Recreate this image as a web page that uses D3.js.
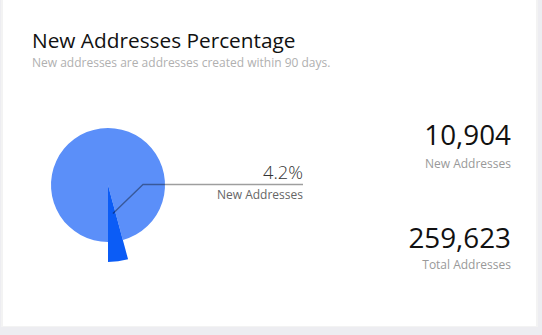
<!DOCTYPE html>
<html><head><meta charset="utf-8">
<script src="https://cdn.jsdelivr.net/npm/d3@7"></script>
<style>
html,body{margin:0;padding:0;background:#f4f4f6;}
svg{display:block;font-family:"Open Sans",sans-serif;}
</style></head>
<body>
<svg id="c" width="542" height="335"></svg>
<script>
const title = "New Addresses Percentage";
const subtitle = "New addresses are addresses created within 90 days.";
const categories = ["New Addresses", "Other Addresses"];
const newAddresses = 10904;
const totalAddresses = 259623;
const statLabels = ["New Addresses", "Total Addresses"];
const colors = ["#0b5cf6", "#5b8ff9"];

const values = [newAddresses, totalAddresses - newAddresses];
const svg = d3.select("#c");

// card
svg.append("rect").attr("x",0).attr("y",0).attr("width",542).attr("height",335).attr("fill","#ededf1");
svg.append("rect").attr("x",1).attr("y",0).attr("width",537).attr("height",327).attr("fill","#f3f3f3");
svg.append("rect").attr("x",3).attr("y",0).attr("width",533).attr("height",326).attr("fill","#ffffff");

svg.append("text").attr("x",32).attr("y",48).attr("font-size",20.8).attr("font-weight",500).attr("fill","#111")
  .text(title);
svg.append("text").attr("x",32).attr("y",67).attr("font-size",12).attr("fill","#b0b0b0")
  .text(subtitle);

const cx = 108, cy = 185, r = 57, rBig = 77;
const frac = newAddresses / totalAddresses;
const start = Math.PI - 2*Math.PI*frac;
const pie = d3.pie().sort(null).startAngle(start).endAngle(start + 2*Math.PI);
const arcs = pie(values);
const g = svg.append("g").attr("transform",`translate(${cx},${cy})`);
const arcMain = d3.arc().innerRadius(0).outerRadius(r);
const arcBig = d3.arc().innerRadius(0).outerRadius(rBig);
g.append("path").attr("d", arcMain(arcs[1])).attr("fill", colors[1]);
g.append("path").attr("d", arcBig(arcs[0])).attr("fill", colors[0]);

// label line
const mid = (arcs[0].startAngle + arcs[0].endAngle)/2 - 0.04;
const p0 = [cx + 29*Math.sin(mid), cy - 29*Math.cos(mid)];
const p1 = [143, 184.5];
const p2 = [303, 184.5];
svg.append("path").attr("d", d3.line()([p0,p1,p2])).attr("fill","none")
  .attr("stroke","#000").attr("stroke-opacity",0.38).attr("stroke-width",1.4);

const pct = d3.format(".1%")(frac);
svg.append("text").attr("x",303).attr("y",179).attr("text-anchor","end")
  .attr("font-size",18.3).attr("fill","#333").attr("font-weight",300).text(pct);
svg.append("text").attr("x",303).attr("y",199).attr("text-anchor","end")
  .attr("font-size",12).attr("fill","#666").text(categories[0]);

const fmt = d3.format(",");
svg.append("text").attr("x",511).attr("y",145).attr("text-anchor","end")
  .attr("font-size",27.8).attr("font-weight",500).attr("fill","#111").text(fmt(newAddresses));
svg.append("text").attr("x",511).attr("y",168).attr("text-anchor","end")
  .attr("font-size",12).attr("fill","#999").text(statLabels[0]);
svg.append("text").attr("x",511).attr("y",248).attr("text-anchor","end")
  .attr("font-size",27.8).attr("font-weight",500).attr("fill","#111").text(fmt(totalAddresses));
svg.append("text").attr("x",511).attr("y",269).attr("text-anchor","end")
  .attr("font-size",12).attr("fill","#999").text(statLabels[1]);
</script>
</body></html>
